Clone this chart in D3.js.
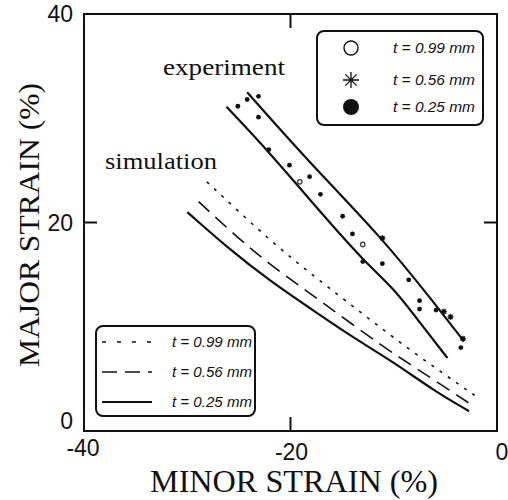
<!DOCTYPE html>
<html>
<head>
<meta charset="utf-8">
<script src="https://cdn.jsdelivr.net/npm/d3@7"></script>
<style>
  body { margin: 0; background: #fff; }
  svg { display: block; }
  .tick-label { font-family: "Liberation Sans", Arial, sans-serif; font-size: 23px; fill: #111; }
  .title { font-family: "Liberation Serif", "Times New Roman", serif; fill: #111; }
  .leg { font-family: "Liberation Sans", Arial, sans-serif; font-size: 15px; font-style: italic; fill: #111; }
</style>
</head>
<body>
<svg id="chart" width="508" height="500"></svg>
<script>
// experiment: two bounding lines (minor %, major %)
var expUpper = [[-24.2,32.5],[-18.4,26.0],[-11.1,18.5],[-6.1,12.3],[-3.2,8.6]];
var expLower = [[-26.2,31.1],[-22.2,26.9],[-17.1,21.0],[-12.9,16.3],[-10.0,13.7],[-7.4,10.3],[-4.8,7.0]];

// experiment points per sheet thickness
var pts099 = [[-19.1,23.9],[-13.0,17.9]];
var pts056 = [[-11.1,18.5],[-5.15,11.45],[-4.5,10.95],[-3.3,8.85]];
var pts025 = [[-25.1,31.15],[-24.2,31.8],[-23.1,32.1],[-23.1,30.1],[-22.1,27.0],[-20.1,25.5],
              [-18.15,24.4],[-17.1,22.7],[-14.95,20.6],[-14.0,18.9],[-13.0,16.25],[-11.1,16.05],
              [-8.55,14.5],[-7.5,12.5],[-7.5,11.7],[-5.9,11.6],[-3.5,8.0]];

// simulation curves
var sim099 = [[-28.1,23.9],[-22.9,19.1],[-19.7,16.4],[-16.3,13.75],[-12.9,11.15],[-8.1,7.5],[-1.85,3.2]];
var sim056 = [[-28.9,22.0],[-24.85,18.3],[-21.65,15.7],[-17.1,12.5],[-11.25,8.2],[-6.4,5.1],[-2.3,2.4]];
var sim025 = [[-30.0,21.0],[-26.0,17.5],[-22.0,14.4],[-18.0,11.7],[-14.0,9.0],[-10.0,6.6],[-6.0,3.8],[-2.7,1.9]];

var xTicks = [-40,-20,0];
var yTicks = [0,20,40];
var legendLabels = ["t = 0.99 mm","t = 0.56 mm","t = 0.25 mm"];

var svg = d3.select("#chart");
var pLeft = 84, pRight = 497, pTop = 14, pBottom = 431;

var x = d3.scaleLinear().domain([-40,0]).range([pLeft,pRight]);
var y = d3.scaleLinear().domain([0,40]).range([pBottom,pTop]);

var line = d3.line().x(function(d){return x(d[0]);}).y(function(d){return y(d[1]);}).curve(d3.curveBasis);

// frame
svg.append("rect").attr("x",pLeft).attr("y",pTop).attr("width",pRight-pLeft).attr("height",pBottom-pTop)
  .attr("fill","none").attr("stroke","#111").attr("stroke-width",2);

// inner ticks at -20 and 20
svg.append("line").attr("x1",x(-20)).attr("x2",x(-20)).attr("y1",pBottom).attr("y2",pBottom-14).attr("stroke","#111").attr("stroke-width",2);
svg.append("line").attr("x1",x(-20)).attr("x2",x(-20)).attr("y1",pTop).attr("y2",pTop+14).attr("stroke","#111").attr("stroke-width",2);
svg.append("line").attr("x1",pLeft).attr("x2",pLeft+13).attr("y1",y(20)).attr("y2",y(20)).attr("stroke","#111").attr("stroke-width",2);
svg.append("line").attr("x1",pRight).attr("x2",pRight-13).attr("y1",y(20)).attr("y2",y(20)).attr("stroke","#111").attr("stroke-width",2);

// tick labels
svg.selectAll(".ylab").data(yTicks).enter().append("text").attr("class","tick-label")
  .attr("x",73).attr("y",function(d){return d===0 ? y(d)-2 : y(d)+8;})
  .attr("text-anchor","end").text(function(d){return d;});
svg.selectAll(".xlab").data(xTicks).enter().append("text").attr("class","tick-label")
  .attr("x",function(d){return d===-40 ? x(d)-1 : (d===0 ? x(d)+5 : x(d)+1);})
  .attr("y",function(d){return d===-40 ? 456 : 460;})
  .attr("text-anchor","middle").text(function(d){return d;});

// axis titles
svg.append("text").attr("class","title").attr("font-size",31)
  .attr("x",294).attr("y",492).attr("text-anchor","middle")
  .attr("textLength",288).attr("lengthAdjust","spacingAndGlyphs").text("MINOR STRAIN (%)");
svg.append("text").attr("class","title").attr("font-size",30)
  .attr("transform","translate(39,225) rotate(-90)").attr("text-anchor","middle")
  .attr("textLength",284).attr("lengthAdjust","spacingAndGlyphs").text("MAJOR STRAIN (%)");

// annotations
svg.append("text").attr("class","title").attr("font-size",24).attr("x",163).attr("y",75)
  .attr("textLength",122).attr("lengthAdjust","spacingAndGlyphs").text("experiment");
svg.append("text").attr("class","title").attr("font-size",24).attr("x",105).attr("y",169)
  .attr("textLength",112).attr("lengthAdjust","spacingAndGlyphs").text("simulation");

// experiment lines
[expUpper, expLower].forEach(function(d){
  svg.append("path").datum(d).attr("d",line).attr("fill","none").attr("stroke","#111").attr("stroke-width",2.2);
});

// simulation lines
var simStyles = [
  {data: sim099, dash: "3,7", w: 1.6},
  {data: sim056, dash: "15,8", w: 1.6},
  {data: sim025, dash: null, w: 2.2}
];
simStyles.forEach(function(s){
  svg.append("path").datum(s.data).attr("d",line).attr("fill","none").attr("stroke","#111")
    .attr("stroke-width",s.w).attr("stroke-dasharray",s.dash);
});

// experiment points
function starPath(r){
  var p="";
  [0,45,90,135].forEach(function(a){
    var t=a*Math.PI/180, dx=r*Math.cos(t), dy=r*Math.sin(t);
    p+="M"+(-dx)+","+(-dy)+"L"+dx+","+dy;
  });
  return p;
}
svg.selectAll(".p099").data(pts099).enter().append("circle")
  .attr("cx",function(d){return x(d[0]);}).attr("cy",function(d){return y(d[1]);})
  .attr("r",2.2).attr("fill","#fff").attr("stroke","#333").attr("stroke-width",1.2);
svg.selectAll(".p056").data(pts056).enter().append("path")
  .attr("transform",function(d){return "translate("+x(d[0])+","+y(d[1])+")";})
  .attr("d",starPath(3)).attr("stroke","#111").attr("stroke-width",1.4);
svg.selectAll(".p025").data(pts025).enter().append("circle")
  .attr("cx",function(d){return x(d[0]);}).attr("cy",function(d){return y(d[1]);})
  .attr("r",2.4).attr("fill","#111");

// legend: experiment
var lg1 = svg.append("g");
lg1.append("rect").attr("x",317).attr("y",31).attr("width",166).attr("height",94).attr("rx",7)
  .attr("fill","#fff").attr("stroke","#111").attr("stroke-width",2);
var rows1 = [48,80,107];
lg1.append("circle").attr("cx",351).attr("cy",rows1[0]).attr("r",7).attr("fill","#fff").attr("stroke","#111").attr("stroke-width",1.4);
lg1.append("path").attr("transform","translate(351,"+rows1[1]+")").attr("d",starPath(8)).attr("stroke","#111").attr("stroke-width",1.3);
lg1.append("circle").attr("cx",351).attr("cy",rows1[2]).attr("r",8).attr("fill","#111");
lg1.selectAll("text").data(legendLabels).enter().append("text").attr("class","leg")
  .attr("x",393).attr("y",function(d,i){return rows1[i]+5;})
  .attr("textLength",82).attr("lengthAdjust","spacingAndGlyphs").text(function(d){return d;});

// legend: simulation
var lg2 = svg.append("g");
lg2.append("rect").attr("x",96).attr("y",326).attr("width",159).attr("height",90).attr("rx",7)
  .attr("fill","#fff").attr("stroke","#111").attr("stroke-width",2);
var rows2 = [342,372,402];
simStyles.forEach(function(s,i){
  lg2.append("line").attr("x1",102).attr("x2",152).attr("y1",rows2[i]).attr("y2",rows2[i])
    .attr("stroke","#111").attr("stroke-width",s.w).attr("stroke-dasharray",i===0?"4,11":(i===1?"15,8":null));
});
lg2.selectAll("text").data(legendLabels).enter().append("text").attr("class","leg")
  .attr("x",172).attr("y",function(d,i){return rows2[i]+5;})
  .attr("textLength",80).attr("lengthAdjust","spacingAndGlyphs").text(function(d){return d;});
</script>
</body>
</html>
